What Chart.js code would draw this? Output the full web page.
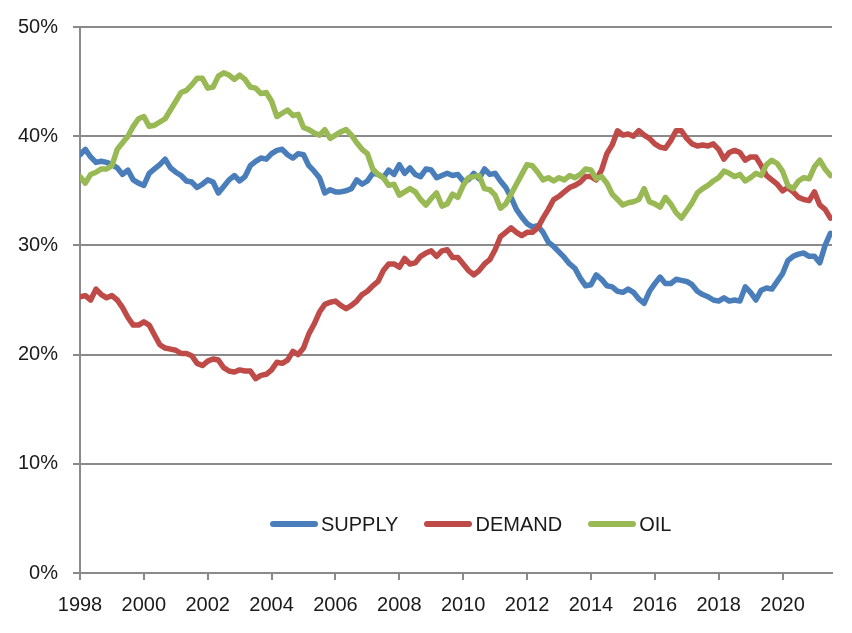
<!DOCTYPE html>
<html>
<head>
<meta charset="utf-8">
<script src="https://cdn.jsdelivr.net/npm/chart.js@4.4.1/dist/chart.umd.min.js"></script>
<style>
  html, body { margin: 0; padding: 0; background: #fff; }
  #wrap { position: relative; width: 852px; height: 633px; }
  #legend {
    position: absolute; left: 270px; top: 512px; height: 24px;
    display: flex; align-items: center; gap: 26px;
    font: 20px "Liberation Sans", Arial, sans-serif; color: #1a1a1a;
  }
  .item { display: flex; align-items: center; }
  .swatch { width: 48px; height: 6px; border-radius: 3px; margin-right: 3px; }
</style>
</head>
<body>
<div id="wrap">
  <canvas id="chart" width="852" height="633"></canvas>
  <div id="legend"></div>
</div>
<script>
// readings every two months, starting Jan 1998
const startYear = 1998;
const stepsPerYear = 6;

const supply = [
  38.3, 38.8, 38.1, 37.6, 37.7, 37.6, 37.4, 37.1, 36.5, 36.9, 36.0, 35.7, 35.5, 36.6, 37.0,
  37.4, 37.9, 37.1, 36.7, 36.4, 35.9, 35.8, 35.3, 35.6, 36.0, 35.8, 34.8, 35.4, 36.0, 36.4,
  35.9, 36.3, 37.3, 37.7, 38.0, 37.9, 38.4, 38.7, 38.8, 38.3, 38.0, 38.4, 38.3, 37.3, 36.8,
  36.2, 34.8, 35.1, 34.9, 34.9, 35.0, 35.2, 36.0, 35.6, 35.9, 36.6, 36.5, 36.2, 36.9,
  36.5, 37.4, 36.6, 37.1, 36.5, 36.3, 37.0, 36.9, 36.2, 36.4, 36.6, 36.4, 36.5, 35.9, 36.0,
  36.6, 36.1, 37.0, 36.5, 36.6, 35.9, 35.3, 34.4, 33.3, 32.6, 32.0, 31.7, 31.8, 31.2,
  30.3, 29.9, 29.4, 28.9, 28.3, 27.9, 27.0, 26.3, 26.4, 27.3, 26.9, 26.3, 26.2, 25.8, 25.7,
  26.0, 25.7, 25.1, 24.7, 25.8, 26.5, 27.1, 26.5, 26.5, 26.9, 26.8, 26.7, 26.4, 25.8,
  25.5, 25.3, 25.0, 24.9, 25.2, 24.9, 25.0, 24.9, 26.2, 25.7, 25.0, 25.9, 26.1, 26.0, 26.7,
  27.4, 28.6, 29.0, 29.2, 29.3, 29.0, 29.0, 28.4, 30.0, 31.1
];

const demand = [
  25.3, 25.4, 25.0, 26.0, 25.5, 25.2, 25.4, 25.0, 24.3, 23.4, 22.7, 22.7, 23.0, 22.7, 21.8,
  20.9, 20.6, 20.5, 20.4, 20.1, 20.1, 19.9, 19.2, 19.0, 19.4, 19.6, 19.5, 18.8, 18.5, 18.4,
  18.6, 18.5, 18.5, 17.8, 18.1, 18.2, 18.6, 19.3, 19.2, 19.5, 20.3, 20.0, 20.6, 21.9, 22.8,
  23.9, 24.6, 24.8, 24.9, 24.5, 24.2, 24.5, 24.9, 25.5, 25.8, 26.3, 26.7, 27.7, 28.3,
  28.3, 28.0, 28.8, 28.3, 28.4, 29.0, 29.3, 29.5, 29.0, 29.5, 29.6, 28.9, 28.9, 28.3, 27.7,
  27.3, 27.7, 28.3, 28.7, 29.6, 30.8, 31.2, 31.6, 31.2, 30.9, 31.2, 31.2, 31.6, 32.5,
  33.3, 34.2, 34.5, 34.9, 35.3, 35.5, 35.8, 36.3, 36.3, 36.0, 36.9, 38.4, 39.2, 40.5, 40.1,
  40.2, 40.0, 40.5, 40.1, 39.8, 39.3, 39.0, 38.9, 39.6, 40.5, 40.5, 39.8, 39.3, 39.1,
  39.2, 39.1, 39.3, 38.8, 37.9, 38.5, 38.7, 38.5, 37.8, 38.1, 38.1, 37.3, 36.4, 36.0, 35.6,
  35.0, 35.3, 34.9, 34.4, 34.2, 34.1, 34.9, 33.7, 33.3, 32.5
];

const oil = [
  36.3, 35.7, 36.5, 36.7, 37.0, 37.0, 37.3, 38.8, 39.4, 40.0, 40.9, 41.6, 41.8, 40.9, 41.0,
  41.3, 41.6, 42.4, 43.2, 44.0, 44.2, 44.7, 45.3, 45.3, 44.4, 44.5, 45.5, 45.8, 45.6, 45.2,
  45.6, 45.2, 44.5, 44.4, 43.9, 44.0, 43.2, 41.8, 42.1, 42.4, 41.9, 42.0, 40.8, 40.6, 40.3,
  40.1, 40.6, 39.8, 40.1, 40.4, 40.6, 40.1, 39.4, 38.8, 38.4, 37.0, 36.5, 36.2, 35.5,
  35.6, 34.6, 34.9, 35.2, 34.9, 34.2, 33.7, 34.3, 34.8, 33.6, 33.8, 34.7, 34.4, 35.5, 36.2,
  36.3, 36.4, 35.2, 35.1, 34.6, 33.4, 33.8, 34.7, 35.6, 36.5, 37.4, 37.3, 36.7, 36.0,
  36.2, 35.9, 36.2, 36.0, 36.4, 36.2, 36.5, 37.0, 36.9, 36.1, 36.3, 35.7, 34.7, 34.2, 33.7,
  33.9, 34.0, 34.2, 35.2, 34.0, 33.8, 33.5, 34.4, 33.8, 33.0, 32.5, 33.2, 33.9, 34.8,
  35.2, 35.5, 35.9, 36.2, 36.8, 36.6, 36.3, 36.5, 35.9, 36.2, 36.6, 36.4, 37.4, 37.8, 37.5,
  36.8, 35.5, 35.2, 35.9, 36.2, 36.1, 37.2, 37.8, 37.0, 36.4
];

const xTicks = [1998, 2000, 2002, 2004, 2006, 2008, 2010, 2012, 2014, 2016, 2018, 2020];
const yTicks = [0, 10, 20, 30, 40, 50];

const gridGray = "#8a8a8a";
const textColor = "#1a1a1a";
const tickFont = { family: "'Liberation Sans', Arial, sans-serif", size: 20 };

function toPoints(values) {
  return values.map((v, i) => ({ x: startYear + i / stepsPerYear, y: v }));
}

function lineSet(label, values, color, order) {
  return {
    label: label,
    data: toPoints(values),
    borderColor: color,
    backgroundColor: color,
    borderWidth: 5.5,
    pointRadius: 0,
    tension: 0,
    borderJoinStyle: "round",
    borderCapStyle: "round",
    order: order
  };
}

const chart = new Chart(document.getElementById("chart"), {
  type: "line",
  data: {
    datasets: [
      lineSet("SUPPLY", supply, "#4a7ebb", 3),
      lineSet("DEMAND", demand, "#be4b48", 2),
      lineSet("OIL", oil, "#98b954", 1)
    ]
  },
  options: {
    responsive: false,
    animation: false,
    devicePixelRatio: 1,
    layout: { padding: { top: 25, right: 20, left: 0, bottom: 0 } },
    plugins: { legend: { display: false }, tooltip: { enabled: false } },
    scales: {
      x: {
        type: "linear",
        min: 1998,
        max: 2021.55,
        afterBuildTicks: s => { s.ticks = xTicks.map(v => ({ value: v })); },
        afterFit: s => { s.height = 60; },
        ticks: {
          callback: v => String(v),
          color: textColor,
          font: tickFont,
          padding: 13,
          maxRotation: 0,
          autoSkip: false
        },
        grid: { drawOnChartArea: false, drawTicks: true, tickLength: 7, color: gridGray, lineWidth: 2 },
        border: { color: gridGray, width: 2 }
      },
      y: {
        min: 0,
        max: 50,
        afterBuildTicks: s => { s.ticks = yTicks.map(v => ({ value: v })); },
        afterFit: s => { s.width = 80; },
        ticks: {
          callback: v => v + "%",
          color: textColor,
          font: tickFont,
          padding: 15
        },
        grid: { color: gridGray, lineWidth: 2, tickLength: 7 },
        border: { color: gridGray, width: 2 }
      }
    }
  }
});

// legend sits inside the plot, under the lines
const legendBox = document.getElementById("legend");
chart.data.datasets.forEach(ds => {
  const item = document.createElement("div");
  item.className = "item";
  const sw = document.createElement("span");
  sw.className = "swatch";
  sw.style.background = ds.borderColor;
  const txt = document.createElement("span");
  txt.textContent = ds.label;
  item.appendChild(sw);
  item.appendChild(txt);
  legendBox.appendChild(item);
});
</script>
</body>
</html>
